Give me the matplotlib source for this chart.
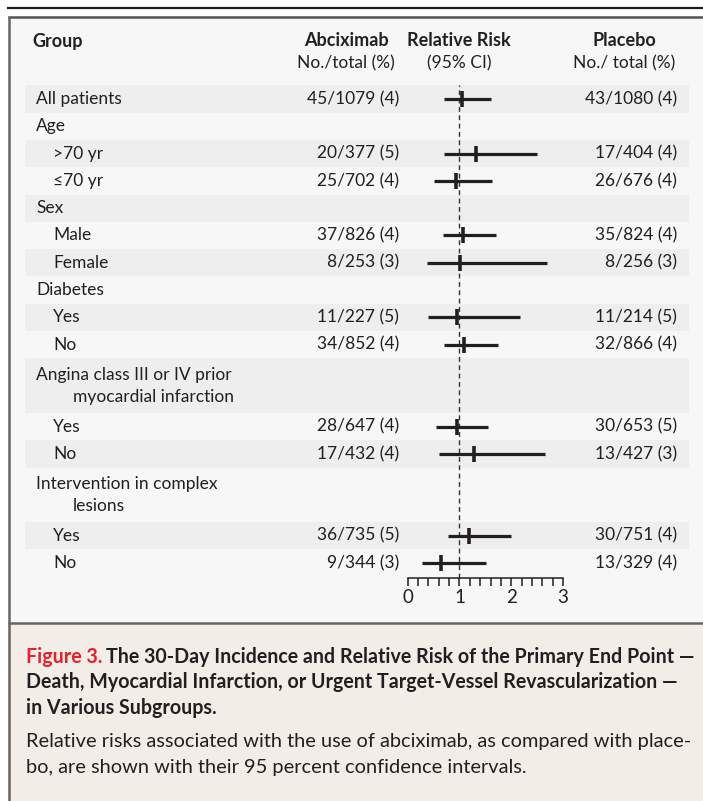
import numpy as np
import matplotlib.pyplot as plt
from matplotlib.patches import Rectangle

plt.rcParams["font.family"] = ["Lato", "DejaVu Sans"]

# subgroup rows (a "\n" marks a two-line heading)
groups = [
    "All patients", "Age", ">70 yr", "\u226470 yr", "Sex", "Male", "Female",
    "Diabetes", "Yes", "No",
    "Angina class III or IV prior\nmyocardial infarction", "Yes", "No",
    "Intervention in complex\nlesions", "Yes", "No",
]
indent = [0, 0, 1, 1, 0, 1, 1, 0, 1, 1, 0, 1, 1, 0, 1, 1]
abciximab = [
    "45/1079 (4)", "", "20/377 (5)", "25/702 (4)", "", "37/826 (4)", "8/253 (3)",
    "", "11/227 (5)", "34/852 (4)", "", "28/647 (4)", "17/432 (4)",
    "", "36/735 (5)", "9/344 (3)",
]
placebo = [
    "43/1080 (4)", "", "17/404 (4)", "26/676 (4)", "", "35/824 (4)", "8/256 (3)",
    "", "11/214 (5)", "32/866 (4)", "", "30/653 (5)", "13/427 (3)",
    "", "30/751 (4)", "13/329 (4)",
]
nan = np.nan
rr = [1.05, nan, 1.31, 0.94, nan, 1.07, 1.01, nan, 0.96, 1.09, nan, 0.96, 1.29, nan, 1.18, 0.65]
ci_low = [0.70, nan, 0.70, 0.51, nan, 0.69, 0.38, nan, 0.40, 0.70, nan, 0.54, 0.60, nan, 0.78, 0.28]
ci_high = [1.60, nan, 2.50, 1.62, nan, 1.71, 2.69, nan, 2.17, 1.75, nan, 1.56, 2.65, nan, 2.00, 1.52]

caption_title = [
    "The 30-Day Incidence and Relative Risk of the Primary End Point \u2014",
    "Death, Myocardial Infarction, or Urgent Target-Vessel Revascularization \u2014",
    "in Various Subgroups.",
]
caption_body = [
    "Relative risks associated with the use of abciximab, as compared with place-",
    "bo, are shown with their 95 percent confidence intervals.",
]

INK = "#231f20"
PANEL = "#f7f7f7"
BAND = "#eeeeee"
CAPTION_BG = "#f2ede7"
RED = "#e8202a"

W, H = 703, 801
fig = plt.figure(figsize=(W / 100, H / 100), dpi=100)
fig.patch.set_facecolor("white")

# frame and backgrounds, in pixel coordinates
bg = fig.add_axes([0, 0, 1, 1])
bg.set_xlim(0, W)
bg.set_ylim(H, 0)
bg.axis("off")
bg.add_patch(Rectangle((8, 16), W, 607, fc=PANEL, ec="none"))
bg.add_patch(Rectangle((8, 623), W, H - 623, fc=CAPTION_BG, ec="none"))
bg.plot([7, W], [7.5, 7.5], color=INK, lw=1.6, solid_capstyle="butt")
bg.plot([8, W], [16.5, 16.5], color="#555555", lw=1.8, solid_capstyle="butt")
bg.plot([8.5, 8.5], [16, H], color="#666666", lw=1.8, solid_capstyle="butt")
bg.plot([8, W], [623, 623], color="#666666", lw=1.8, solid_capstyle="butt")

# column headers
head = dict(color=INK, va="center", fontsize=13, fontweight="bold")
sub = dict(color=INK, va="center", fontsize=12.5)
bg.text(32, 41, "Group", ha="left", **head)
bg.text(346, 41, "Abciximab", ha="center", **head)
bg.text(346, 63, "No./total (%)", ha="center", **sub)
bg.text(459, 41, "Relative Risk", ha="center", **head)
bg.text(459, 63, "(95% CI)", ha="center", **sub)
bg.text(624, 41, "Placebo", ha="center", **head)
bg.text(624, 63, "No./ total (%)", ha="center", **sub)

# forest panel
left_px, right_px, top_px, bottom_px = 25, 689, 85.35, 578.3
x0_px, px_per_unit = 407.7, 51.77
ax = fig.add_axes([left_px / W, 1 - bottom_px / H,
                   (right_px - left_px) / W, (bottom_px - top_px) / H])
ax.patch.set_alpha(0)
ax.set_xlim((left_px - x0_px) / px_per_unit, (right_px - x0_px) / px_per_unit)

heights = np.array([g.count("\n") + 1 for g in groups])
starts = np.concatenate([[0], np.cumsum(heights)[:-1]])
centers = starts + heights / 2 - 0.5
total = heights.sum()
row_px = (bottom_px - top_px) / (total + 0.057)
ax.set_ylim(total - 0.5 + 1.55 / row_px, -0.5)

for i, (s, h) in enumerate(zip(starts, heights)):
    if i % 2 == 0:
        ax.axhspan(s - 0.5, s + h - 0.5, color=BAND, lw=0, zorder=0)

ax.axvline(1, color="#333333", lw=1.0, dashes=(3.5, 2.5), zorder=1)

ax.hlines(centers, ci_low, ci_high, color=INK, lw=2.3, zorder=3)
ax.plot(rr, centers, ls="none", marker="|", ms=11, mew=2.6, color=INK, zorder=4)

trans = ax.get_yaxis_transform()
def fx(px):
    return (px - left_px) / (right_px - left_px)

body = dict(color=INK, va="center", fontsize=12.5, transform=trans)
for g, ind, c, h, a, p in zip(groups, indent, centers, heights, abciximab, placebo):
    lines = g.split("\n")
    if h == 1:
        ax.text(fx(36 + 17 * ind), c, g, ha="left", **body)
    else:
        ax.text(fx(36), c - 0.4, lines[0], ha="left", **body)
        ax.text(fx(73), c + 0.4, lines[1], ha="left", **body)
    ax.text(fx(399), c, a, ha="right", **body)
    ax.text(fx(677), c, p, ha="right", **body)

for side in ("top", "left", "right"):
    ax.spines[side].set_visible(False)
ax.spines["bottom"].set_bounds(0, 3)
ax.spines["bottom"].set_color(INK)
ax.spines["bottom"].set_linewidth(1.1)
ax.set_xticks([0, 1, 2, 3])
ax.set_xticks(np.arange(0, 3.01, 0.2), minor=True)
ax.set_yticks([])
ax.tick_params(axis="x", which="both", direction="out", length=5.5, width=1.1,
               color=INK, labelsize=13.5, labelcolor=INK, pad=2)

# caption
cap_bold = dict(va="center", fontsize=14.1, fontweight="bold")
fig_num = bg.text(26, 657, "Figure 3.", ha="left", color=RED, **cap_bold)
fig.canvas.draw()
end_x = bg.transData.inverted().transform(fig_num.get_window_extent().get_points())[1, 0]
bg.text(end_x + 4, 657, caption_title[0], ha="left", color=INK, **cap_bold)
for k, line in enumerate(caption_title[1:], start=1):
    bg.text(26, 657 + 25.5 * k, line, ha="left", color=INK, **cap_bold)
for k, line in enumerate(caption_body):
    bg.text(26, 742 + 25.5 * k, line, ha="left", color=INK, va="center", fontsize=14.4)

fig.savefig("out.png", dpi=100, facecolor=fig.get_facecolor())
